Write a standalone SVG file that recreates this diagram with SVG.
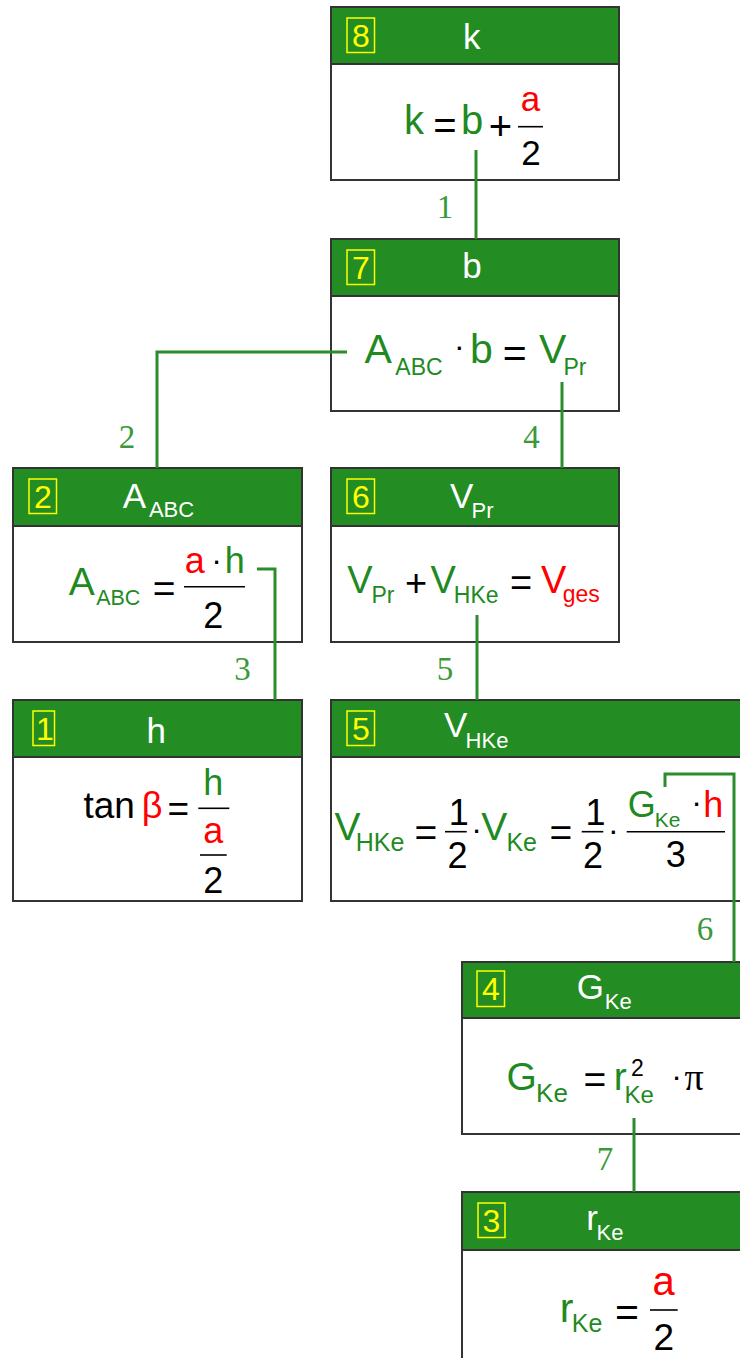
<svg xmlns="http://www.w3.org/2000/svg" width="740" height="1358" viewBox="0 0 740 1358">
<style>
text{font-family:"Liberation Sans",Arial,sans-serif;text-anchor:middle}
.g{fill:#1f8a1f}.r{fill:#ff0000}.k{fill:#000}.w{fill:#fff}
.t{font-size:35px}.ts{font-size:22px}
.idx{fill:#ffff00;font-size:32px}
.ib{fill:none;stroke:#ffff00;stroke-width:1.5}
.body{fill:#fff;stroke:#333;stroke-width:2}
.head{fill:#238c23;stroke:#333;stroke-width:2}
.bar{stroke:#000;stroke-width:1.6}
.dot{fill:#000;font-size:32px}
.con{fill:none;stroke:#2a8c2a;stroke-width:3}
.lbl{font-family:"Liberation Serif","Times New Roman",serif;font-size:33px;fill:#3a9a3a}
</style>

<g id="node8">
<rect class="body" x="331" y="7" width="288" height="173"/>
<rect class="head" x="331" y="7" width="288" height="57"/>
<rect class="ib" x="347" y="18" width="27.5" height="34.5"/>
<text class="idx" x="360.8" y="47">8</text>
<text class="w t" x="471.8" y="49">k</text>
<text class="g" x="414" y="134" font-size="40">k</text>
<text class="k" x="445" y="139" font-size="40">=</text>
<text class="g" x="472" y="134" font-size="40">b</text>
<text class="k" x="500.5" y="140" font-size="40">+</text>
<line class="bar" x1="518" y1="126.7" x2="543" y2="126.7"/>
<text class="r" x="530.5" y="110.5" font-size="35">a</text>
<text class="k" x="531" y="165" font-size="35">2</text>
</g>

<g id="node7">
<rect class="body" x="331" y="239" width="288" height="172"/>
<rect class="head" x="331" y="239" width="288" height="57"/>
<rect class="ib" x="347" y="250" width="27.5" height="34.5"/>
<text class="idx" x="360.8" y="279">7</text>
<text class="w t" x="472" y="278">b</text>
<text class="g" x="378.3" y="363" font-size="41">A</text>
<text class="g" x="419" y="375" font-size="23">ABC</text>
<text class="dot" x="459.3" y="357">·</text>
<text class="g" x="481.4" y="363" font-size="41">b</text>
<text class="k" x="514.7" y="367" font-size="41">=</text>
<text class="g" x="552.8" y="363" font-size="41">V</text>
<text class="g" x="575" y="375" font-size="23">Pr</text>
</g>

<g id="node2">
<rect class="body" x="13" y="468" width="289" height="174"/>
<rect class="head" x="13" y="468" width="289" height="58"/>
<rect class="ib" x="29" y="479" width="27.5" height="34.5"/>
<text class="idx" x="42.8" y="508">2</text>
<text class="w t" x="134.5" y="508">A</text>
<text class="w ts" x="171.5" y="517">ABC</text>
<text class="g" x="81.7" y="595" font-size="39">A</text>
<text class="g" x="118.3" y="605" font-size="21.5">ABC</text>
<text class="k" x="164.2" y="602" font-size="39">=</text>
<line class="bar" x1="184" y1="586.7" x2="245" y2="586.7"/>
<text class="r" x="194.7" y="573" font-size="36">a</text>
<text class="dot" x="216.7" y="570.5">·</text>
<text class="g" x="234.7" y="573" font-size="36">h</text>
<text class="k" x="213.3" y="628" font-size="36">2</text>
</g>

<g id="node6">
<rect class="body" x="331" y="468" width="288" height="174"/>
<rect class="head" x="331" y="468" width="288" height="58"/>
<rect class="ib" x="347" y="479" width="27.5" height="34.5"/>
<text class="idx" x="360.8" y="508">6</text>
<text class="w t" x="461.7" y="508">V</text>
<text class="w ts" x="482.5" y="518">Pr</text>
<text class="g" x="360" y="593" font-size="38">V</text>
<text class="g" x="383" y="603" font-size="23">Pr</text>
<text class="k" x="416" y="596" font-size="38">+</text>
<text class="g" x="443.3" y="593" font-size="38">V</text>
<text class="g" x="476.2" y="603" font-size="23">HKe</text>
<text class="k" x="521.2" y="596" font-size="38">=</text>
<text class="r" x="553.7" y="593" font-size="38">V</text>
<text class="r" x="581.3" y="602" font-size="23">ges</text>
</g>

<g id="node1">
<rect class="body" x="13" y="700" width="289" height="201"/>
<rect class="head" x="13" y="700" width="289" height="57"/>
<rect class="ib" x="33" y="711" width="21.5" height="34.5"/>
<text class="idx" x="45" y="740">1</text>
<text class="w t" x="156.2" y="743">h</text>
<text class="k" x="109.2" y="818" font-size="37">tan</text>
<text class="r" x="152.2" y="818" font-size="36">β</text>
<text class="k" x="178.3" y="820.5" font-size="37">=</text>
<line class="bar" x1="198.3" y1="808.3" x2="229.3" y2="808.3"/>
<text class="g" x="213.3" y="795" font-size="36">h</text>
<text class="r" x="213.3" y="843" font-size="36">a</text>
<line class="bar" x1="200" y1="855" x2="226.7" y2="855"/>
<text class="k" x="213.3" y="893" font-size="36">2</text>
</g>

<g id="node5">
<rect class="body" x="331" y="700" width="430" height="201"/>
<rect class="head" x="331" y="700" width="430" height="57"/>
<rect class="ib" x="347" y="711" width="27.5" height="34.5"/>
<text class="idx" x="360.8" y="740">5</text>
<text class="w t" x="455.8" y="737">V</text>
<text class="w ts" x="487" y="748">HKe</text>
<text class="g" x="347.5" y="840" font-size="39">V</text>
<text class="g" x="380" y="851" font-size="25">HKe</text>
<text class="k" x="425.8" y="846" font-size="39">=</text>
<line class="bar" x1="445" y1="831.7" x2="466.7" y2="831.7"/>
<text class="k" x="458.8" y="825" font-size="36">1</text>
<text class="k" x="457.5" y="868" font-size="36">2</text>
<text class="dot" x="476.7" y="839.5">·</text>
<text class="g" x="494.2" y="840" font-size="39">V</text>
<text class="g" x="521.7" y="851" font-size="25">Ke</text>
<text class="k" x="560.8" y="846" font-size="39">=</text>
<line class="bar" x1="581.7" y1="831.7" x2="603.3" y2="831.7"/>
<text class="k" x="595.5" y="825" font-size="36">1</text>
<text class="k" x="593" y="868" font-size="36">2</text>
<text class="dot" x="613.3" y="841">·</text>
<line class="bar" x1="626.7" y1="831.7" x2="725" y2="831.7"/>
<text class="g" x="641.7" y="816.7" font-size="36">G</text>
<text class="g" x="667.5" y="826.7" font-size="21">Ke</text>
<text class="dot" x="696.7" y="813">·</text>
<text class="r" x="713.3" y="816.7" font-size="36">h</text>
<text class="k" x="675.8" y="867" font-size="36">3</text>
</g>

<g id="node4">
<rect class="body" x="462" y="962" width="300" height="172"/>
<rect class="head" x="462" y="962" width="300" height="56"/>
<rect class="ib" x="477" y="971" width="27.5" height="35.5"/>
<text class="idx" x="490.8" y="1000">4</text>
<text class="w t" x="590.3" y="999">G</text>
<text class="w ts" x="618.3" y="1009">Ke</text>
<text class="g" x="521.7" y="1090" font-size="39">G</text>
<text class="g" x="552" y="1101.7" font-size="26">Ke</text>
<text class="k" x="595" y="1093" font-size="39">=</text>
<text class="g" x="620.2" y="1090" font-size="39">r</text>
<text class="k" x="637.5" y="1076" font-size="23">2</text>
<text class="g" x="639.2" y="1103" font-size="24">Ke</text>
<text class="dot" x="676.7" y="1087">·</text>
<text class="k" x="694.2" y="1090" font-size="38" style="font-family:'Liberation Serif',serif">π</text>
</g>

<g id="node3">
<rect class="body" x="462" y="1192" width="300" height="190"/>
<rect class="head" x="462" y="1192" width="300" height="58"/>
<rect class="ib" x="478" y="1203" width="27" height="34.5"/>
<text class="idx" x="491.5" y="1232">3</text>
<text class="w t" x="592" y="1230">r</text>
<text class="w ts" x="610" y="1240">Ke</text>
<text class="g" x="566.5" y="1321.7" font-size="41">r</text>
<text class="g" x="587" y="1331.7" font-size="25">Ke</text>
<text class="k" x="627" y="1325.5" font-size="41">=</text>
<line class="bar" x1="650" y1="1310" x2="677.7" y2="1310"/>
<text class="r" x="663.7" y="1295" font-size="40">a</text>
<text class="k" x="663.8" y="1350" font-size="37">2</text>
</g>

<g id="connectors">
<path class="con" d="M476,150 V239"/>
<path class="con" d="M347,352 H157 V468"/>
<path class="con" d="M562,382 V468"/>
<path class="con" d="M257,569 H275 V700"/>
<path class="con" d="M477,615 V700"/>
<path class="con" d="M665,787 V774 H734 V962"/>
<path class="con" d="M634,1118 V1192"/>
<text class="lbl" x="445" y="218">1</text>
<text class="lbl" x="127" y="448">2</text>
<text class="lbl" x="242.5" y="680">3</text>
<text class="lbl" x="531.5" y="448">4</text>
<text class="lbl" x="445" y="680">5</text>
<text class="lbl" x="705" y="940">6</text>
<text class="lbl" x="605" y="1170">7</text>
</g>
</svg>
